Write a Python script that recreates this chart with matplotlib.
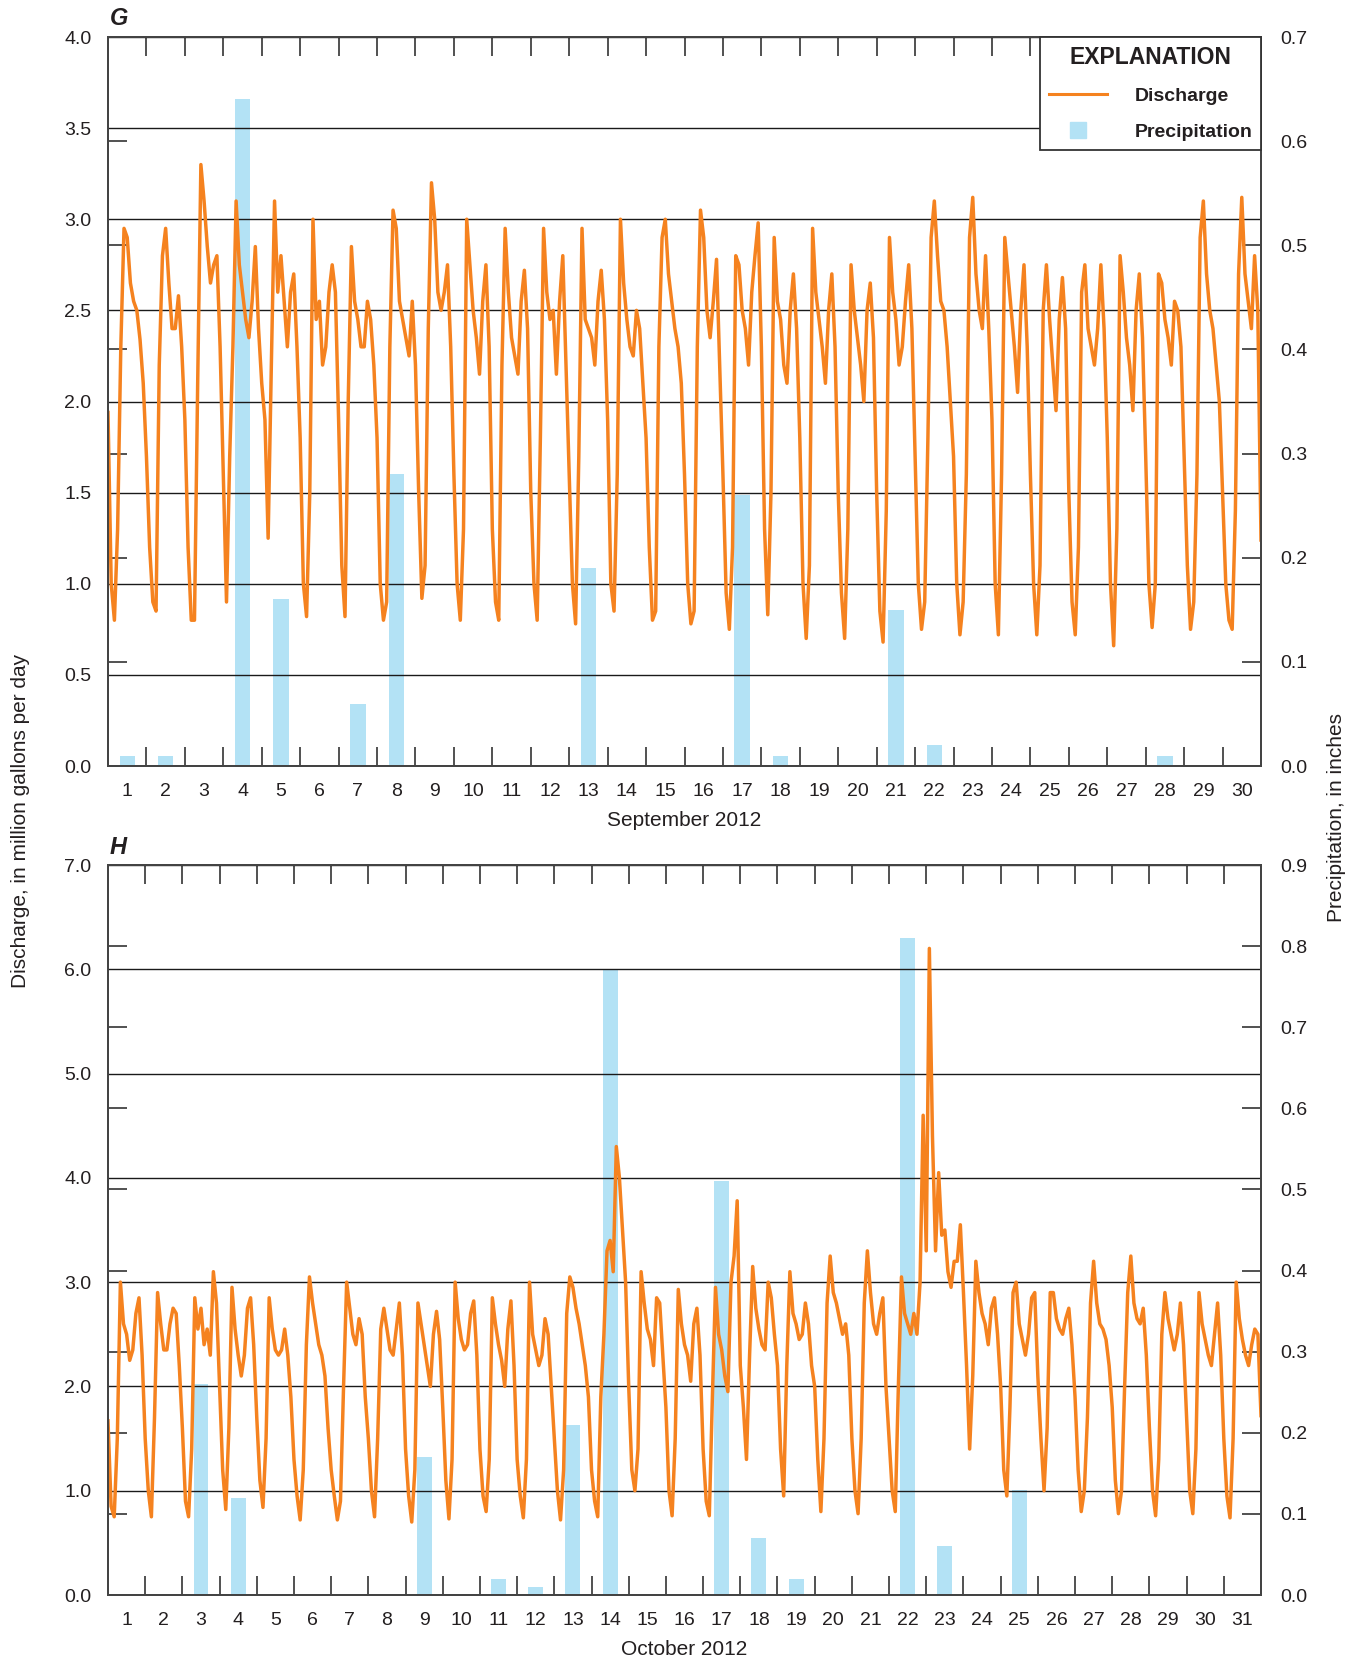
import numpy as np
import matplotlib
matplotlib.use('Agg')
import matplotlib.pyplot as plt
from matplotlib.lines import Line2D

plt.rcParams['font.family'] = ['Liberation Sans Narrow', 'Liberation Sans', 'DejaVu Sans']

# --- data -----------------------------------------------------------------
# discharge, million gallons per day, one row per day, readings every 2 hours (0h..22h)
sep_q = [
    [1.94, 1.0, 0.8, 1.3, 2.3, 2.95, 2.9, 2.65, 2.55, 2.5, 2.34, 2.1],
    [1.7, 1.2, 0.9, 0.85, 2.2, 2.8, 2.95, 2.65, 2.4, 2.4, 2.58, 2.3],
    [1.9, 1.2, 0.8, 0.8, 2.1, 3.3, 3.1, 2.85, 2.65, 2.75, 2.8, 2.3],
    [1.6, 0.9, 1.7, 2.3, 3.1, 2.75, 2.6, 2.45, 2.35, 2.55, 2.85, 2.4],
    [2.1, 1.9, 1.25, 2.2, 3.1, 2.6, 2.8, 2.55, 2.3, 2.6, 2.7, 2.3],
    [1.8, 1.0, 0.82, 1.5, 3.0, 2.45, 2.55, 2.2, 2.3, 2.6, 2.75, 2.6],
    [1.9, 1.1, 0.82, 2.0, 2.85, 2.55, 2.45, 2.3, 2.3, 2.55, 2.45, 2.2],
    [1.8, 1.0, 0.8, 0.9, 2.3, 3.05, 2.95, 2.55, 2.45, 2.35, 2.25, 2.55],
    [2.2, 1.5, 0.92, 1.1, 2.4, 3.2, 3.0, 2.6, 2.5, 2.6, 2.75, 2.3],
    [1.6, 1.0, 0.8, 1.3, 3.0, 2.75, 2.5, 2.35, 2.15, 2.55, 2.75, 2.3],
    [1.3, 0.9, 0.8, 2.2, 2.95, 2.6, 2.35, 2.25, 2.15, 2.55, 2.72, 2.4],
    [1.5, 1.0, 0.8, 1.8, 2.95, 2.6, 2.45, 2.5, 2.15, 2.55, 2.8, 2.2],
    [1.6, 1.0, 0.78, 1.7, 2.95, 2.45, 2.4, 2.35, 2.2, 2.55, 2.72, 2.45],
    [1.9, 1.0, 0.85, 1.6, 3.0, 2.65, 2.45, 2.3, 2.25, 2.5, 2.4, 2.1],
    [1.8, 1.2, 0.8, 0.85, 2.3, 2.9, 3.0, 2.7, 2.55, 2.4, 2.3, 2.1],
    [1.6, 1.0, 0.78, 0.85, 2.3, 3.05, 2.9, 2.5, 2.35, 2.55, 2.78, 2.2],
    [1.6, 0.95, 0.75, 1.2, 2.8, 2.75, 2.5, 2.4, 2.2, 2.6, 2.8, 2.98],
    [2.3, 1.3, 0.83, 1.5, 2.9, 2.55, 2.45, 2.2, 2.1, 2.5, 2.7, 2.4],
    [1.8, 1.0, 0.7, 1.1, 2.95, 2.6, 2.45, 2.3, 2.1, 2.5, 2.7, 2.3],
    [1.5, 0.95, 0.7, 1.3, 2.75, 2.5, 2.35, 2.2, 2.0, 2.5, 2.65, 2.35],
    [1.5, 0.85, 0.68, 1.4, 2.9, 2.6, 2.45, 2.2, 2.3, 2.55, 2.75, 2.4],
    [1.7, 1.0, 0.75, 0.9, 1.8, 2.9, 3.1, 2.8, 2.55, 2.5, 2.3, 2.0],
    [1.7, 1.0, 0.72, 0.9, 1.6, 2.9, 3.12, 2.7, 2.5, 2.4, 2.8, 2.4],
    [1.9, 1.0, 0.72, 1.6, 2.9, 2.7, 2.5, 2.3, 2.05, 2.5, 2.75, 2.3],
    [1.6, 1.0, 0.72, 1.1, 2.5, 2.75, 2.45, 2.2, 1.95, 2.45, 2.68, 2.4],
    [1.5, 0.9, 0.72, 1.2, 2.6, 2.75, 2.4, 2.3, 2.2, 2.4, 2.75, 2.4],
    [1.8, 1.0, 0.66, 1.3, 2.8, 2.6, 2.35, 2.2, 1.95, 2.5, 2.7, 2.35],
    [1.7, 1.0, 0.76, 1.0, 2.7, 2.65, 2.45, 2.35, 2.2, 2.55, 2.5, 2.3],
    [1.7, 1.1, 0.75, 0.9, 1.6, 2.9, 3.1, 2.7, 2.5, 2.4, 2.2, 2.0],
    [1.5, 1.0, 0.8, 0.75, 1.4, 2.7, 3.12, 2.7, 2.55, 2.4, 2.8, 2.5],
]
sep_q_end = 1.24

oct_q = [
    [1.67, 0.85, 0.75, 1.5, 3.0, 2.6, 2.5, 2.25, 2.35, 2.7, 2.85, 2.3],
    [1.5, 1.0, 0.75, 1.7, 2.9, 2.6, 2.35, 2.35, 2.6, 2.75, 2.7, 2.2],
    [1.6, 0.9, 0.75, 1.4, 2.85, 2.55, 2.75, 2.4, 2.55, 2.3, 3.1, 2.8],
    [2.0, 1.2, 0.82, 1.6, 2.95, 2.55, 2.3, 2.1, 2.3, 2.75, 2.85, 2.4],
    [1.7, 1.1, 0.84, 1.5, 2.85, 2.55, 2.35, 2.3, 2.35, 2.55, 2.3, 1.9],
    [1.3, 0.95, 0.72, 1.2, 2.4, 3.05, 2.8, 2.6, 2.4, 2.3, 2.1, 1.6],
    [1.2, 0.95, 0.72, 0.9, 2.0, 3.0, 2.75, 2.5, 2.4, 2.65, 2.5, 1.9],
    [1.5, 1.0, 0.75, 1.5, 2.55, 2.75, 2.55, 2.35, 2.3, 2.55, 2.8, 2.3],
    [1.4, 0.95, 0.7, 1.2, 2.8, 2.6, 2.4, 2.2, 2.0, 2.5, 2.72, 2.45],
    [1.8, 1.1, 0.73, 1.3, 3.0, 2.65, 2.45, 2.35, 2.4, 2.7, 2.82, 2.3],
    [1.4, 0.95, 0.8, 1.3, 2.85, 2.6, 2.4, 2.25, 2.0, 2.55, 2.82, 2.2],
    [1.3, 0.95, 0.74, 1.3, 3.0, 2.5, 2.35, 2.2, 2.3, 2.65, 2.5, 2.0],
    [1.5, 1.0, 0.72, 1.2, 2.7, 3.05, 2.95, 2.75, 2.6, 2.4, 2.2, 1.9],
    [1.2, 0.9, 0.75, 1.9, 2.5, 3.3, 3.4, 3.1, 4.3, 4.0, 3.5, 3.0],
    [2.0, 1.2, 1.0, 1.4, 3.1, 2.8, 2.55, 2.45, 2.2, 2.85, 2.8, 2.3],
    [1.8, 1.0, 0.76, 1.5, 2.93, 2.6, 2.4, 2.3, 2.05, 2.6, 2.75, 2.3],
    [1.4, 0.9, 0.76, 1.9, 2.95, 2.5, 2.35, 2.1, 1.95, 3.0, 3.25, 3.78],
    [2.2, 1.8, 1.3, 2.3, 3.15, 2.75, 2.55, 2.4, 2.35, 3.0, 2.85, 2.5],
    [2.2, 1.4, 0.95, 2.2, 3.1, 2.7, 2.6, 2.45, 2.5, 2.8, 2.6, 2.2],
    [2.0, 1.3, 0.8, 1.5, 2.8, 3.25, 2.9, 2.8, 2.65, 2.5, 2.6, 2.3],
    [1.5, 1.0, 0.78, 1.5, 2.8, 3.3, 2.9, 2.6, 2.5, 2.7, 2.85, 2.0],
    [1.5, 1.0, 0.8, 2.0, 3.05, 2.7, 2.6, 2.5, 2.7, 2.5, 3.0, 4.6],
    [3.3, 6.2, 4.4, 3.3, 4.05, 3.45, 3.5, 3.1, 2.95, 3.2, 3.2, 3.55],
    [2.9, 2.2, 1.4, 2.1, 3.2, 2.9, 2.7, 2.6, 2.4, 2.75, 2.85, 2.5],
    [2.0, 1.2, 0.95, 1.8, 2.9, 3.0, 2.6, 2.45, 2.3, 2.5, 2.85, 2.9],
    [2.1, 1.5, 1.0, 1.6, 2.9, 2.9, 2.65, 2.55, 2.5, 2.65, 2.75, 2.4],
    [1.9, 1.2, 0.8, 1.0, 1.7, 2.8, 3.2, 2.8, 2.6, 2.55, 2.45, 2.2],
    [1.8, 1.1, 0.78, 1.0, 2.0, 2.9, 3.25, 2.8, 2.65, 2.6, 2.75, 2.3],
    [1.6, 1.0, 0.76, 1.3, 2.5, 2.9, 2.65, 2.5, 2.35, 2.5, 2.8, 2.4],
    [1.7, 1.0, 0.78, 1.4, 2.9, 2.6, 2.45, 2.3, 2.2, 2.5, 2.8, 2.3],
    [1.5, 0.95, 0.74, 1.5, 3.0, 2.65, 2.45, 2.3, 2.2, 2.4, 2.55, 2.5],
]
oct_q_end = 1.72

# daily precipitation, inches
sep_rain_days = [1, 2, 4, 5, 7, 8, 13, 17, 18, 21, 22, 28]
sep_rain = [0.01, 0.01, 0.64, 0.16, 0.06, 0.28, 0.19, 0.26, 0.01, 0.15, 0.02, 0.01]
oct_rain_days = [3, 4, 9, 11, 12, 13, 14, 17, 18, 19, 22, 23, 25]
oct_rain = [0.26, 0.12, 0.17, 0.02, 0.01, 0.21, 0.77, 0.51, 0.07, 0.02, 0.81, 0.06, 0.13]

ORANGE = '#f5821f'
BLUE = '#b3e2f5'
INK = '#231f20'
READ_HOURS = np.arange(0, 24, 2)


def to_series(days, end_value):
    t = [d + READ_HOURS / 24.0 for d in range(len(days))] + [[len(days)]]
    v = [np.array(d) for d in days] + [[end_value]]
    return np.concatenate(t), np.concatenate(v)


def draw_panel(ax, days, end_value, rain_days, rain, qmax, qstep, pmax, month):
    ndays = len(days)
    t, q = to_series(days, end_value)

    axp = ax.twinx()
    ax.set_zorder(axp.get_zorder() + 1)
    ax.patch.set_visible(False)

    # precipitation bars centered on each day
    axp.bar(np.array(rain_days) - 0.5, rain, width=0.4, color=BLUE, linewidth=0)
    ax.plot(t, q, color=ORANGE, lw=2.5, solid_joinstyle='round')

    ax.set_xlim(0, ndays)
    ax.set_ylim(0, qmax)
    axp.set_ylim(0, pmax)

    # left axis: labels only + gridlines
    ax.set_yticks(np.arange(0, qmax + 1e-6, qstep))
    ax.set_yticklabels(['%.1f' % v for v in np.arange(0, qmax + 1e-6, qstep)])
    ax.tick_params(axis='y', length=0, pad=12, labelsize=14, colors=INK)
    ax.yaxis.grid(True, color='#1a1a1a', lw=1.0)

    # right axis: inward ticks on both spines
    pt = np.arange(0, pmax + 1e-6, 0.1)
    axp.set_yticks(pt)
    axp.set_yticklabels(['%.1f' % v for v in pt])
    axp.yaxis.set_ticks_position('both')
    axp.tick_params(axis='y', direction='in', length=13.5, width=1.2, color='#333333',
                    labelleft=False, labelright=True, pad=14, labelsize=14, labelcolor=INK)

    # x axis: day boundaries as ticks, day numbers in the middle
    ax.set_xticks(np.arange(1, ndays))
    ax.set_xticks(np.arange(0.5, ndays), labels=[str(i) for i in range(1, ndays + 1)], minor=True)
    ax.tick_params(axis='x', which='major', direction='in', length=13.5, width=1.2,
                   color='#333333', top=True, bottom=True, labelbottom=False)
    ax.tick_params(axis='x', which='minor', length=0, pad=12, labelsize=14, colors=INK,
                   top=False)
    ax.set_xlabel(month, fontsize=15, color=INK, labelpad=8)

    for a in (ax, axp):
        for s in a.spines.values():
            s.set_color('#444444')
            s.set_linewidth(1.4)
    return axp


fig = plt.figure(figsize=(13.62, 16.61), dpi=100)
W, H = 1362.0, 1661.0
axG = fig.add_axes([108 / W, 1 - 766 / H, 1153 / W, 729 / H])
axH = fig.add_axes([108 / W, 1 - 1595 / H, 1153 / W, 730 / H])

draw_panel(axG, sep_q, sep_q_end, sep_rain_days, sep_rain, 4.0, 0.5, 0.7, 'September 2012')
draw_panel(axH, oct_q, oct_q_end, oct_rain_days, oct_rain, 7.0, 1.0, 0.9, 'October 2012')

handles = [Line2D([], [], color=ORANGE, lw=2.2),
           Line2D([], [], marker='s', ls='none', color=BLUE, markersize=12)]
leg = axG.legend(handles, ['Discharge', 'Precipitation'], title='EXPLANATION',
                 loc='upper right', bbox_to_anchor=(1, 1), borderaxespad=0,
                 fancybox=False, framealpha=1, edgecolor='#333333',
                 prop={'weight': 'bold', 'size': 14},
                 title_fontproperties={'weight': 'bold', 'size': 16.5},
                 handlelength=3.0, handletextpad=1.4, labelspacing=0.95, borderpad=0.45)
leg.get_frame().set_linewidth(1.3)
for txt in leg.get_texts():
    txt.set_color(INK)
leg.get_title().set_color(INK)

fig.text(110 / W, 1 - 18.5 / H, 'G', fontsize=17, weight='bold', style='italic',
         ha='left', va='center', color=INK)
fig.text(110 / W, 1 - 847.5 / H, 'H', fontsize=17, weight='bold', style='italic',
         ha='left', va='center', color=INK)

fig.text(21 / W, 1 - 821 / H, 'Discharge, in million gallons per day', rotation=90,
         ha='center', va='center', fontsize=15, color=INK)
fig.text(1337 / W, 1 - 818 / H, 'Precipitation, in inches', rotation=90,
         ha='center', va='center', fontsize=15, color=INK)

fig.savefig('out.png', dpi=100, facecolor='white')
